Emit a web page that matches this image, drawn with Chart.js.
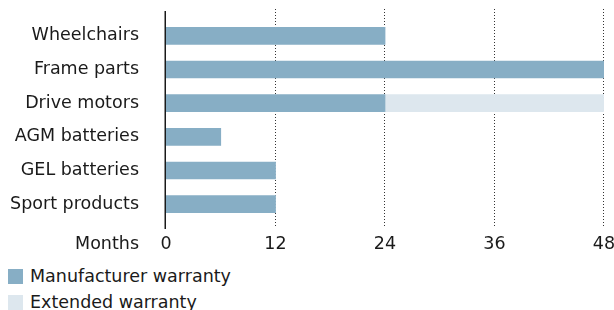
<!DOCTYPE html>
<html>
<head>
<meta charset="utf-8">
<script src="https://cdn.jsdelivr.net/npm/chart.js@4.4.1/dist/chart.umd.min.js"></script>
<style>
  body { margin: 0; background: #fff; font-family: "DejaVu Sans", sans-serif; color: #1a1a1a; }
  #wrap { position: relative; width: 614px; height: 256px; }
  #legend { list-style: none; margin: 7px 0 0 0; padding: 0; }
  #legend li { display: flex; align-items: center; height: 26px; padding-left: 8px; font-size: 17.5px; }
  #legend .box { display: inline-block; width: 15px; height: 15px; margin-right: 7px; }
</style>
</head>
<body>
<div id="wrap"><canvas id="warrantyChart"></canvas></div>
<ul id="legend"></ul>
<script>
// data
const categories = ["Wheelchairs", "Frame parts", "Drive motors", "AGM batteries", "GEL batteries", "Sport products"];
const manufacturer = [24, 48, 24, 6, 12, 12];
const extended = [0, 0, 24, 0, 0, 0];
const xTicks = [0, 12, 24, 36, 48];
const axisLabel = "Months";
const seriesNames = ["Manufacturer warranty", "Extended warranty"];

const textColor = "#1a1a1a";
const font = { family: "DejaVu Sans", size: 17.5 };

// dotted grid lines that run a bit past the plot, solid line at zero, "Months" label
const gridLines = {
    id: "gridLines",
    beforeDatasetsDraw(chart) {
        const { ctx, chartArea, scales: { x } } = chart;
        ctx.save();
        ctx.strokeStyle = "#333";
        ctx.lineWidth = 1;
        ctx.setLineDash([1, 2]);
        x.ticks.forEach(t => {
            if (t.value === 0) return;
            const px = Math.round(x.getPixelForValue(t.value)) - 0.5;
            ctx.beginPath();
            ctx.moveTo(px, chartArea.top - 10);
            ctx.lineTo(px, chartArea.bottom + 7);
            ctx.stroke();
        });
        ctx.restore();
    },
    afterDatasetsDraw(chart) {
        const { ctx, chartArea, scales: { x, y } } = chart;
        ctx.save();
        const px = x.getPixelForValue(0) - 0.75;
        ctx.strokeStyle = "#1a1a1a";
        ctx.lineWidth = 1.5;
        ctx.beginPath();
        ctx.moveTo(px, chartArea.top - 8);
        ctx.lineTo(px, chartArea.bottom + 8);
        ctx.stroke();

        const item = x.getLabelItems()[0];
        ctx.font = font.size + "px " + font.family;
        ctx.fillStyle = textColor;
        ctx.textAlign = "right";
        ctx.textBaseline = item.options.textBaseline;
        ctx.fillText(axisLabel, y.right - y.options.ticks.padding, item.options.translation[1] + item.textOffset);
        ctx.restore();
    }
};

const ctx = document.getElementById("warrantyChart").getContext("2d");

const chart = new Chart(ctx, {
    type: "bar",
    data: {
        labels: categories,
        datasets: [
            { label: seriesNames[0], data: manufacturer, backgroundColor: "#87aec5", barThickness: 17 },
            { label: seriesNames[1], data: extended, backgroundColor: "#dde7ee", barThickness: 17 }
        ]
    },
    options: {
        indexAxis: "y",
        responsive: true,
        maintainAspectRatio: false,
        animation: false,
        layout: { padding: { top: 19, right: 10, bottom: 2, left: 0 } },
        scales: {
            x: {
                stacked: true,
                min: 0,
                max: 48,
                afterBuildTicks: s => { s.ticks = xTicks.map(v => ({ value: v })); },
                afterFit: s => { s.paddingRight = 10; s.paddingLeft = 0; s.height = 33; },
                ticks: { color: textColor, font: font, padding: 13, maxRotation: 0 },
                grid: { display: false, drawTicks: false },
                border: { display: false }
            },
            y: {
                stacked: true,
                afterFit: s => { s.width = 166; s.paddingTop = 0; s.paddingBottom = 0; },
                ticks: { color: textColor, font: font, padding: 27 },
                grid: { display: false, drawTicks: false },
                border: { display: false }
            }
        },
        plugins: {
            legend: { display: false },
            tooltip: { enabled: true }
        }
    },
    plugins: [gridLines]
});

// legend below the chart, one item per row
const legendEl = document.getElementById("legend");
chart.data.datasets.forEach(ds => {
    const li = document.createElement("li");
    const box = document.createElement("span");
    box.className = "box";
    box.style.background = ds.backgroundColor;
    li.appendChild(box);
    li.appendChild(document.createTextNode(ds.label));
    legendEl.appendChild(li);
});
</script>
</body>
</html>
